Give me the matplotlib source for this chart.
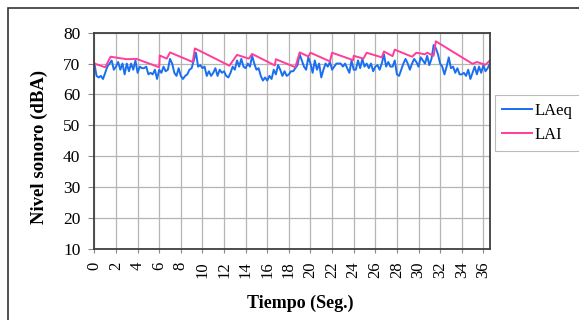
import numpy as np
import matplotlib

matplotlib.use('Agg')
import matplotlib.pyplot as plt
from matplotlib.patches import Rectangle

# LAeq sampled every 0.2 s
laeq = [70, 66, 65.5, 66, 65, 67, 69, 70, 71, 68, 69, 70.5, 68, 70, 66.5, 70, 67.5, 70, 68, 71,
        67, 69, 68.5, 68.5, 69, 66.5, 67, 66.5, 68, 65, 68, 67, 69, 67.5, 68, 71.5, 70, 67, 66, 68.5,
        66, 65, 66, 66.5, 68, 68.5, 71, 73.5, 69, 69.5, 68.5, 69, 66, 67.5, 66, 67, 68.5, 66, 68, 67,
        67.5, 66, 65.5, 67, 69, 68, 71, 69, 71.5, 69, 68.5, 70, 69, 72.5, 70, 68, 68.5, 66, 64.5, 65.5,
        64.5, 66, 65, 68, 66.5, 69.5, 68, 66, 67.5, 66, 66.5, 67.5, 67.5, 68.5, 69.5, 73, 71, 69, 68, 72,
        70, 67, 71, 68, 70, 65.5, 68, 70, 69, 70.5, 68, 69, 70, 70, 70, 69, 70, 68.5, 67, 71,
        68, 68, 71, 68.5, 71.5, 69, 70, 68.5, 70, 67.5, 69, 69.5, 68, 70, 73, 69, 70.5, 69, 69, 71,
        66.5, 66, 68, 70, 71.5, 70, 68, 70, 71.5, 70.5, 69, 72, 71, 70, 72.5, 69.5, 71.5, 76, 75, 73,
        70, 69, 66.5, 69, 72, 68.5, 69, 67, 68.5, 66.5, 66.5, 67, 66, 68, 65, 67, 69, 66.5, 69, 67,
        69.5, 67.5, 68.5, 70]
t_laeq = np.arange(len(laeq)) * 0.2

# LAI: rises instantly, decays slowly (breakpoints)
t_lai = [0, 1.0, 1.5, 3.0, 3.9, 6.0, 6.05, 6.7, 7.0, 9.1, 9.3, 12.5, 13.2, 14.3, 14.6, 16.7, 16.8,
         18.6, 19.0, 19.8, 20.0, 21.8, 22.0, 23.95, 24.0, 24.9, 25.2, 26.6, 26.8, 27.6, 27.8, 29.4,
         29.8, 30.6, 30.8, 31.4, 31.6, 35.0, 35.4, 36.2, 36.6]
lai = [70, 68.8, 72.2, 71.4, 71.5, 68.8, 72.6, 71.6, 73.6, 70.5, 74.9, 69.3, 72.8, 71.6, 73.1, 69.4,
       71.4, 68.8, 73.6, 72.3, 73.5, 70.7, 73.5, 71.1, 72.5, 71.6, 73.5, 72.0, 73.9, 72.4, 74.5, 72.2,
       73.5, 73.0, 73.5, 72.5, 77.2, 69.9, 70.5, 69.6, 71.0]

xticks = list(range(0, 37, 2))
yticks = list(range(10, 81, 10))

plt.rcParams['font.family'] = ['Liberation Serif', 'DejaVu Serif']

fig = plt.figure(figsize=(5.79, 3.2), dpi=100)
fig.patches.append(Rectangle((8 / 579, -0.1), 1.2, 1 - 8 / 320 + 0.1, transform=fig.transFigure,
                             fill=False, edgecolor='#333333', linewidth=1.2))

ax = fig.add_axes([0.163, 0.222, 0.683, 0.676])
ax.plot(t_laeq, laeq, color='#1a6ff0', linewidth=1.4, label='LAeq')
ax.plot(t_lai, lai, color='#ff3d9a', linewidth=1.4, label='LAI')

ax.set_xlim(0, 36.6)
ax.set_ylim(10, 80)
ax.set_xticks(xticks)
ax.set_yticks(yticks)
ax.set_xticklabels([str(v) for v in xticks], rotation=90, fontsize=12)
ax.tick_params(axis='y', labelsize=12.5, length=4, color='#888888', pad=6)
ax.tick_params(axis='x', length=3, color='#888888', pad=6)
ax.grid(True, color='#b5b5b5', linewidth=0.9)
ax.set_axisbelow(True)
for s in ax.spines.values():
    s.set_color('#404040')
    s.set_linewidth(1.3)

ax.set_xlabel('Tiempo (Seg.)', fontsize=13, weight='bold')
ax.set_ylabel('Nivel sonoro (dBA)', fontsize=13.5, weight='bold')
ax.xaxis.set_label_coords(0.52, -0.21)
ax.yaxis.set_label_coords(-0.118, 0.47)

leg = ax.legend(loc='upper left', bbox_to_anchor=(1.012, 0.71), fontsize=12, frameon=True,
                fancybox=False, edgecolor='#aaaaaa', handlelength=1.8, handletextpad=0.15,
                borderpad=0.45, labelspacing=0.5, borderaxespad=0)
leg.get_frame().set_linewidth(0.8)

fig.savefig('out.png', dpi=100)
